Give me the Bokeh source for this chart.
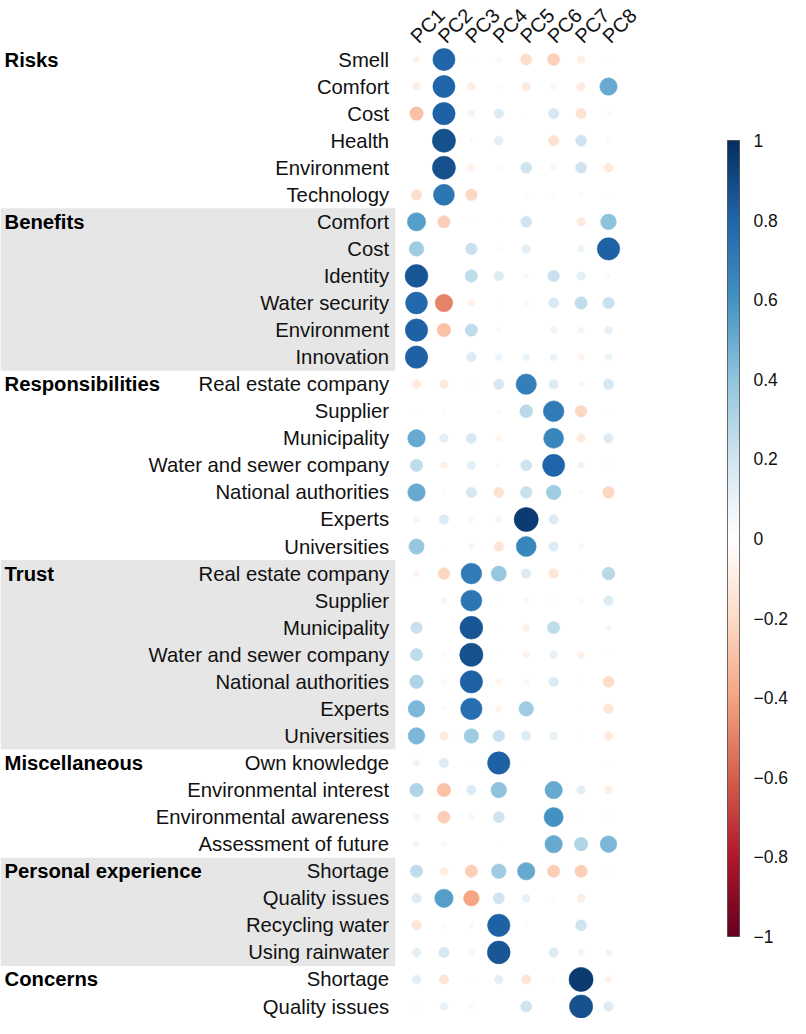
import numpy as np
from bokeh.plotting import figure
from bokeh.models import ColumnDataSource, LinearColorMapper, ColorBar, FixedTicker, CustomJSTickFormatter, Range1d
from bokeh.transform import transform
from bokeh.core.properties import value
from bokeh.embed import file_html
from bokeh.resources import INLINE

PCS = ["PC1", "PC2", "PC3", "PC4", "PC5", "PC6", "PC7", "PC8"]

GROUPS = ["Risks", "Benefits", "Responsibilities", "Trust", "Miscellaneous",
          "Personal experience", "Concerns"]

RISKS_ITEMS = ["Smell", "Comfort", "Cost", "Health", "Environment", "Technology"]
RISKS = [
    [-0.07, 0.80, 0.02, -0.05, -0.20, -0.24, -0.10, 0.01],
    [-0.10, 0.80, -0.10, -0.03, -0.12, 0.05, -0.12, 0.50],
    [-0.30, 0.82, 0.07, 0.15, 0.01, 0.18, -0.17, 0.03],
    [0.00, 0.88, 0.03, 0.13, 0.00, -0.17, 0.20, -0.04],
    [0.00, 0.87, -0.08, 0.03, 0.20, -0.06, 0.20, -0.13],
    [-0.18, 0.72, -0.22, 0.00, 0.02, 0.02, 0.03, 0.02],
]

BENEFITS_ITEMS = ["Comfort", "Cost", "Identity", "Water security", "Environment", "Innovation"]
BENEFITS = [
    [0.55, -0.25, 0.02, 0.02, 0.20, 0.00, -0.12, 0.40],
    [0.35, 0.00, 0.22, 0.03, 0.12, 0.00, 0.08, 0.82],
    [0.85, 0.00, 0.25, 0.15, -0.05, 0.22, 0.12, 0.03],
    [0.78, -0.50, -0.08, 0.02, -0.05, 0.17, 0.25, 0.22],
    [0.82, -0.30, 0.25, 0.03, 0.00, 0.07, 0.06, 0.10],
    [0.82, 0.00, 0.15, 0.08, 0.08, 0.08, -0.06, 0.08],
]

RESP_ITEMS = ["Real estate company", "Supplier", "Municipality", "Water and sewer company",
              "National authorities", "Experts", "Universities"]
RESPONSIBILITIES = [
    [-0.12, -0.12, 0.02, 0.18, 0.68, 0.15, 0.05, 0.18],
    [0.02, 0.02, 0.00, 0.03, 0.27, 0.70, -0.22, 0.02],
    [0.50, 0.12, 0.17, -0.06, 0.00, 0.65, -0.12, 0.15],
    [0.25, -0.08, 0.12, -0.04, 0.20, 0.80, 0.07, 0.02],
    [0.50, 0.02, 0.18, -0.17, 0.22, 0.35, 0.03, -0.22],
    [0.06, 0.15, 0.04, -0.06, 0.95, 0.15, 0.00, 0.00],
    [0.38, 0.01, 0.05, -0.15, 0.65, 0.15, 0.04, 0.00],
]

TRUST_ITEMS = ["Real estate company", "Supplier", "Municipality", "Water and sewer company",
               "National authorities", "Experts", "Universities"]
TRUST = [
    [-0.06, -0.22, 0.70, 0.38, 0.15, -0.15, 0.02, 0.27],
    [0.00, -0.06, 0.72, 0.02, 0.05, 0.02, 0.04, 0.15],
    [0.22, 0.00, 0.85, 0.02, -0.08, 0.25, 0.00, 0.05],
    [0.25, -0.03, 0.88, 0.01, -0.07, 0.10, -0.08, 0.01],
    [0.30, -0.05, 0.82, -0.06, 0.05, 0.15, 0.02, -0.20],
    [0.45, -0.04, 0.75, -0.06, 0.35, 0.00, 0.02, -0.15],
    [0.45, -0.12, 0.35, 0.22, 0.15, 0.10, 0.02, -0.12],
]

MISC_ITEMS = ["Own knowledge", "Environmental interest", "Environmental awareness",
              "Assessment of future"]
MISC = [
    [0.07, 0.15, 0.02, 0.82, 0.01, 0.00, 0.00, 0.02],
    [0.30, -0.30, 0.15, 0.40, 0.00, 0.50, 0.12, -0.10],
    [0.06, -0.25, 0.05, 0.20, 0.00, 0.60, 0.02, 0.02],
    [0.06, -0.05, 0.00, 0.01, 0.00, 0.50, 0.30, 0.45],
]

PERSONAL_ITEMS = ["Shortage", "Quality issues", "Recycling water", "Using rainwater"]
PERSONAL = [
    [0.25, -0.10, -0.25, 0.35, 0.50, -0.25, -0.25, 0.02],
    [0.15, 0.55, -0.40, 0.20, 0.10, 0.02, -0.10, 0.00],
    [-0.15, -0.04, 0.04, 0.82, 0.02, 0.00, 0.20, 0.00],
    [0.12, 0.18, -0.06, 0.85, 0.00, 0.15, -0.06, 0.07],
]

CONCERNS_ITEMS = ["Shortage", "Quality issues"]
CONCERNS = [
    [0.12, -0.15, 0.02, 0.12, -0.15, 0.02, 0.95, -0.07],
    [0.02, 0.10, -0.04, 0.00, 0.20, 0.00, 0.88, 0.15],
]

GROUP_ITEMS = [RISKS_ITEMS, BENEFITS_ITEMS, RESP_ITEMS, TRUST_ITEMS, MISC_ITEMS,
               PERSONAL_ITEMS, CONCERNS_ITEMS]
GROUP_VALUES = [RISKS, BENEFITS, RESPONSIBILITIES, TRUST, MISC, PERSONAL, CONCERNS]
SHADED = [False, True, False, True, False, True, False]

CB_TICKS = [-1, -0.8, -0.6, -0.4, -0.2, 0, 0.2, 0.4, 0.6, 0.8, 1]

# corrplot-like RdBu palette, 200 steps
anchors = ["#67001F", "#B2182B", "#D6604D", "#F4A582", "#FDDBC7", "#FFFFFF",
           "#D1E5F0", "#92C5DE", "#4393C3", "#2166AC", "#053061"]
rgb = np.array([[int(h[i:i + 2], 16) for i in (1, 3, 5)] for h in anchors], dtype=float)
pos = np.linspace(0, 1, len(anchors))
tt = np.linspace(0, 1, 200)
palette = []
for t in tt:
    c = [np.interp(t, pos, rgb[:, k]) for k in range(3)]
    palette.append("#%02x%02x%02x" % tuple(int(round(v)) for v in c))

mapper = LinearColorMapper(palette=palette, low=-1, high=1)

# build sources
cx, cy, cv, cr = [], [], [], []
item_y, item_txt = [], []
grp_y, grp_txt = [], []
band_top, band_bot = [], []
row = 0
for g, items, vals, sh in zip(GROUPS, GROUP_ITEMS, GROUP_VALUES, SHADED):
    first = row + 1
    for it, vrow in zip(items, vals):
        row += 1
        item_y.append(row)
        item_txt.append(it)
        for j, v in enumerate(vrow):
            cx.append(j + 1)
            cy.append(row)
            cv.append(v)
            cr.append(0.45 * np.sqrt(abs(v)))
    grp_y.append(first)
    grp_txt.append(g)
    if sh:
        band_top.append(first - 0.5)
        band_bot.append(row + 0.5)

W, H = 790, 1018
CELL_X = 27.43
FIRST_ROW_PX, LAST_ROW_PX = 59, 1006
CELL_Y = (LAST_ROW_PX - FIRST_ROW_PX) / 35.0
X0 = 1 - 416 / CELL_X
X1 = X0 + W / CELL_X
Y0 = 1 - FIRST_ROW_PX / CELL_Y
Y1 = Y0 + H / CELL_Y

p = figure(width=W, height=H, output_backend="svg", toolbar_location=None,
           x_range=Range1d(X0, X1), y_range=Range1d(Y1, Y0),
           x_axis_location=None, y_axis_location=None, min_border=0)
p.grid.visible = False
p.outline_line_color = None
p.background_fill_color = "white"

if band_top:
    p.quad(left=[X0] * len(band_top), right=[0.23] * len(band_top),
           top=band_top, bottom=band_bot, fill_color="#e6e6e6", line_color=None)

src = ColumnDataSource(dict(x=cx, y=cy, v=cv, r=cr))
p.circle(x="x", y="y", radius="r", source=src,
         fill_color=transform("v", mapper), line_color=transform("v", mapper),
         line_width=0.6)

p.text(x=[0.0] * len(item_y), y=item_y, text=item_txt, text_align="right",
       text_baseline="middle", text_font=value("Liberation Sans"),
       text_font_size="20.3px", text_color="#111111")
p.text(x=[X0 + 4 / CELL_X] * len(grp_y), y=grp_y, text=grp_txt, text_align="left",
       text_baseline="middle", text_font=value("Liberation Sans"),
       text_font_style="bold", text_font_size="20.3px", text_color="#000000")

hdr_y = Y0 + 39 / CELL_Y
p.text(x=[j + 1 - 0.1 for j in range(len(PCS))], y=[hdr_y] * len(PCS), text=PCS,
       angle=np.pi / 4, text_align="left", text_baseline="alphabetic",
       text_font=value("Liberation Sans"), text_font_size="20px", text_color="#111111")

fmt = CustomJSTickFormatter(code="""
var a = Math.abs(tick);
var s = (Math.round(a * 10) / 10).toString();
if (tick < -1e-9) { s = '\\u2212' + s; }
return s;
""")
cb = ColorBar(color_mapper=mapper, location=(727, H - 936), width=12, height=796,
              padding=0, margin=0, ticker=FixedTicker(ticks=CB_TICKS), formatter=fmt,
              major_tick_line_color=None, minor_tick_line_color=None,
              label_standoff=14, major_label_text_font="Liberation Sans",
              major_label_text_font_size="17.5px", major_label_text_color="#111111",
              bar_line_color="#333333", bar_line_alpha=0.7,
              background_fill_color=None, border_line_color=None)
p.add_layout(cb, "center")

open("out.html", "w").write(file_html(p, INLINE))
